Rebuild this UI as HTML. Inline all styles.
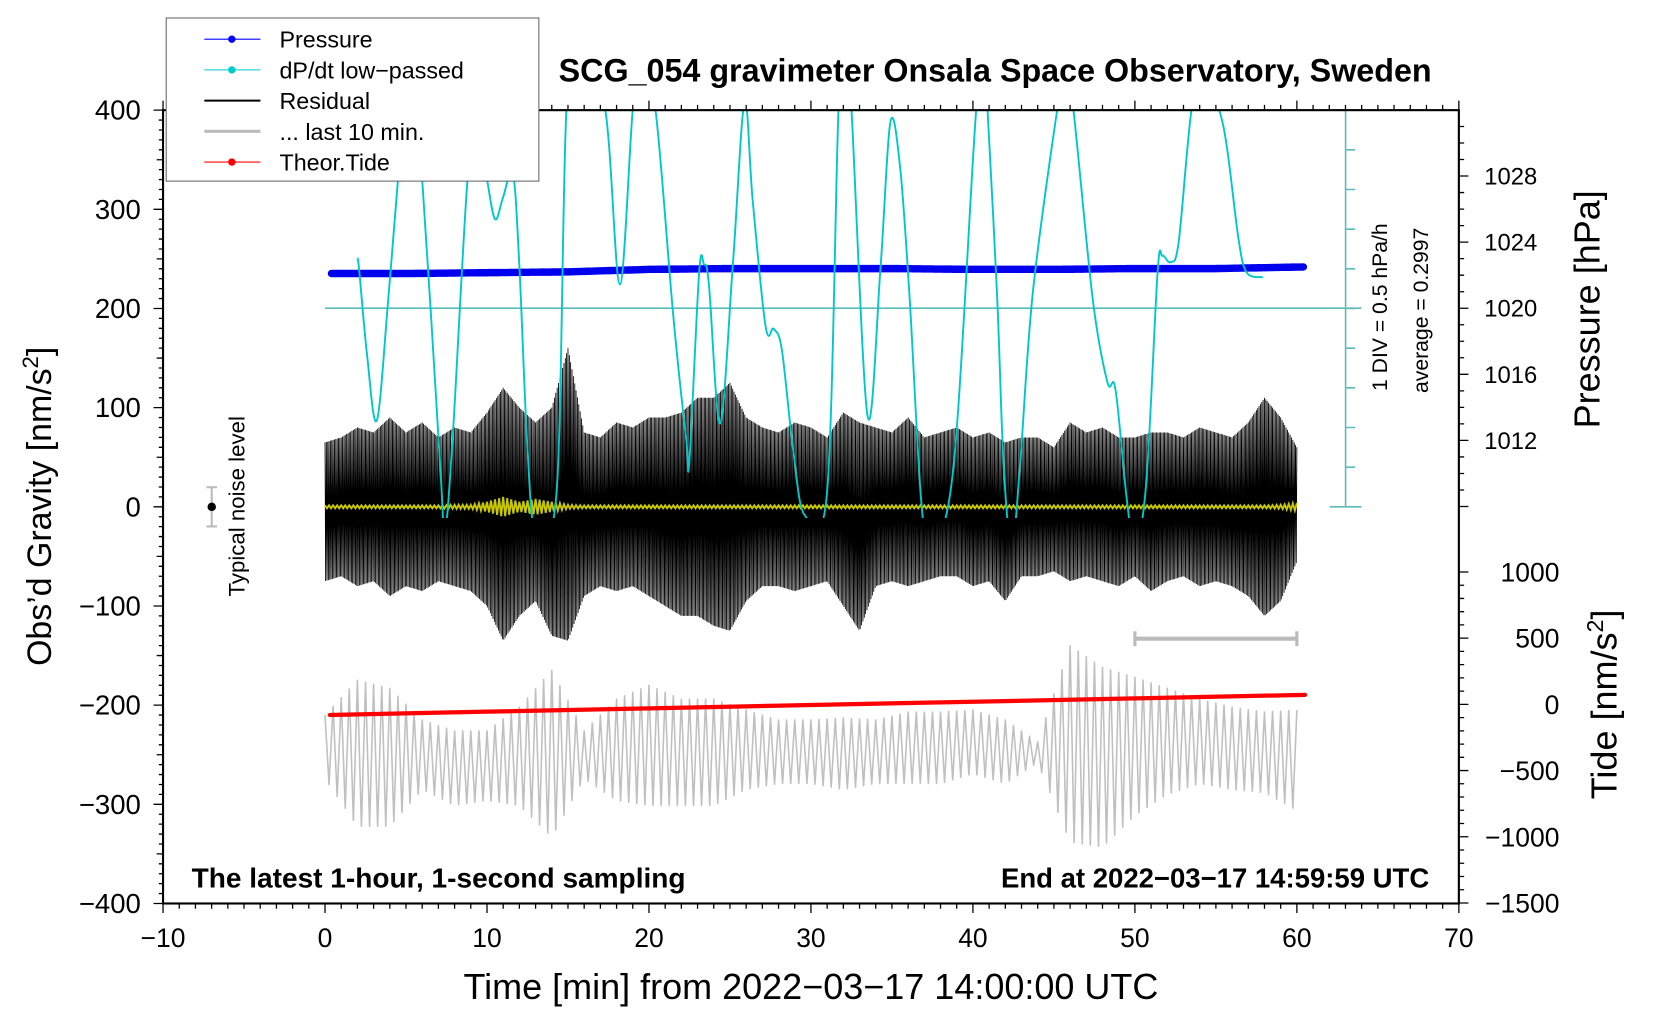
<!DOCTYPE html>
<html><head><meta charset="utf-8"><style>
html,body{margin:0;padding:0;background:#fff;}
svg{display:block;font-family:"Liberation Sans",sans-serif;}
</style></head><body>
<svg id="chart" xmlns="http://www.w3.org/2000/svg" width="1660" height="1020" viewBox="0 0 1568 963" preserveAspectRatio="none">
<defs>
<clipPath id="plotClip"><rect x="154" y="104" width="1224" height="749"/></clipPath>
<clipPath id="dpClip"><rect x="154" y="104" width="1224" height="385"/></clipPath>
</defs>
<rect width="1568" height="963" fill="#fff"/>
<g id="axes"></g>
<g id="series"></g>
<rect x="154" y="104" width="1224" height="749" fill="none" stroke="#000" stroke-width="2"/>
<text x="940" y="77" text-anchor="middle" font-size="30.5" font-weight="bold">SCG_054 gravimeter Onsala Space Observatory, Sweden</text>
<text x="181" y="838" font-size="26.5" font-weight="bold">The latest 1-hour, 1-second sampling</text>
<text x="1350" y="838" text-anchor="end" font-size="26" font-weight="bold">End at 2022−03−17 14:59:59 UTC</text>
<text x="766" y="943" text-anchor="middle" font-size="34">Time [min] from 2022−03−17 14:00:00 UTC</text>
<text transform="translate(48,478) rotate(-90)" text-anchor="middle" font-size="32">Obs’d Gravity [nm/s<tspan font-size="21" dy="-12">2</tspan><tspan dy="12">]</tspan></text>
<text transform="translate(1511,292) rotate(-90)" text-anchor="middle" font-size="34">Pressure [hPa]</text>
<text transform="translate(1527,665) rotate(-90)" text-anchor="middle" font-size="34">Tide [nm/s<tspan font-size="22" dy="-13">2</tspan><tspan dy="13">]</tspan></text>
<text transform="translate(1310,290) rotate(-90)" text-anchor="middle" font-size="20">1 DIV = 0.5 hPa/h</text>
<text transform="translate(1349,293) rotate(-90)" text-anchor="middle" font-size="20">average = 0.2997</text>
<g>
<line x1="200" y1="460" x2="200" y2="497" stroke="#bbb" stroke-width="2"/>
<line x1="195" y1="460" x2="205" y2="460" stroke="#bbb" stroke-width="2"/>
<line x1="195" y1="497" x2="205" y2="497" stroke="#bbb" stroke-width="2"/>
<circle cx="200" cy="478.5" r="4" fill="#000"/>
</g>
<text transform="translate(231,478) rotate(-90)" text-anchor="middle" font-size="21">Typical noise level</text>
<g stroke="#bbb" stroke-width="4">
<line x1="1072" y1="603" x2="1225" y2="603"/>
<line x1="1072" y1="596" x2="1072" y2="610" stroke-width="3"/>
<line x1="1225" y1="596" x2="1225" y2="610" stroke-width="3"/>
</g>
<g>
<rect x="157" y="17" width="352" height="154" fill="#fff" stroke="#666" stroke-width="1"/>
<g><line x1="193" y1="37" x2="246" y2="37" stroke="#00f" stroke-width="1"/><circle cx="219" cy="37" r="3.5" fill="#00f"/><text x="264" y="45" font-size="22">Pressure</text></g>
<g><line x1="193" y1="66" x2="246" y2="66" stroke="#0cc" stroke-width="1"/><circle cx="219" cy="66" r="3.5" fill="#0cc"/><text x="264" y="74" font-size="22">dP/dt low−passed</text></g>
<g><line x1="193" y1="95" x2="246" y2="95" stroke="#000" stroke-width="2"/><text x="264" y="103" font-size="22">Residual</text></g>
<g><line x1="193" y1="124" x2="246" y2="124" stroke="#bbb" stroke-width="3"/><text x="264" y="132" font-size="22">... last 10 min.</text></g>
<g><line x1="193" y1="153" x2="246" y2="153" stroke="#f00" stroke-width="1"/><circle cx="219" cy="153" r="3.5" fill="#f00"/><text x="264" y="161" font-size="22">Theor.Tide</text></g>
</g>
</svg>
<script>
// ---- data ----
const residualPos = [65,70,80,75,90,75,85,70,80,75,95,120,100,85,100,160,75,70,85,80,90,90,95,110,110,125,90,80,75,85,80,70,95,85,80,75,90,70,75,80,70,75,65,70,70,60,85,75,80,70,70,75,75,70,80,75,70,85,110,90,60];
const residualNeg = [-75,-70,-80,-75,-90,-80,-85,-75,-80,-85,-100,-135,-110,-95,-130,-135,-90,-80,-85,-80,-90,-100,-110,-110,-120,-125,-95,-80,-80,-85,-80,-75,-100,-125,-80,-75,-80,-75,-70,-70,-80,-75,-95,-70,-70,-65,-75,-70,-75,-80,-70,-85,-75,-70,-80,-75,-80,-90,-110,-95,-55];
const grayTop = [-210,-175,-183,-215,-226,-226,-202,-165,-226,-194,-180,-194,-194,-205,-215,-215,-213,-215,-207,-207,-205,-215,-237,-140,-162,-172,-183,-194,-202,-207,-205];
const grayBot = [-274,-322,-322,-285,-301,-296,-301,-333,-274,-296,-301,-301,-301,-285,-279,-279,-285,-279,-279,-279,-269,-279,-258,-338,-343,-311,-290,-279,-285,-288,-306];
const yellowAmp = [1.5,1.5,1.5,1.5,1.5,1.5,1.5,1.5,2,2,5,10,5,8,5,2,1.5,1.5,1.5,1.5,1.5,1.5,1.5,1.5,1.5,1.5,1.5,1.5,1.5,1.5,1.5,1.5,1.5,1.5,1.5,1.5,1.5,1.5,1.5,1.5,1.5,1.5,1.5,1.5,1.5,1.5,1.5,1.5,1.5,1.5,1.5,1.5,1.5,1.5,1.5,1.5,1.5,1.5,1.5,2,4];
const pressMin = [0,5,10,15,20,25,30,35,40,45,50,55,60.5];
const pressVal = [1022.1,1022.1,1022.15,1022.2,1022.35,1022.4,1022.4,1022.4,1022.35,1022.35,1022.4,1022.4,1022.5];
const tideMin = [0.3,10,20,30,40,50,60.5];
const tideVal = [-80,-55,-30,-5,20,45,72];
const dpMin = [2.0,2.1,2.6,3.2,3.9,4.5,5.2,6.0,7.1,7.4,7.9,8.8,9.4,10.0,10.5,11.0,11.6,12.0,12.5,13.0,14.3,14.9,15.7,17.3,18.2,19.0,19.5,20.4,21.5,22.3,22.5,23.1,23.4,23.7,24.4,25.2,25.9,26.4,27.2,27.7,28.2,28.9,29.6,31.0,31.7,32.1,32.5,33.5,34.3,34.9,35.5,36.1,36.8,37.4,38.8,40.2,40.7,40.9,41.5,41.9,42.4,42.9,43.7,45.2,45.7,46.2,47.4,48.3,48.8,49.5,50.0,50.7,51.4,51.7,52.2,52.7,53.5,54.3,55.2,55.7,56.4,56.9,57.9];
const dpVal = [0.62,0.5,-0.6,-1.41,0.11,1.62,3.3,1.62,-1.94,-2.8,-1.56,1.62,2.3,1.62,1.12,1.4,1.7,0.53,-1.78,-2.8,-2.3,2.5,3.5,2.5,0.3,2.5,3.0,2.5,-0.1,-1.65,-1.9,0.45,0.55,0.3,-1.45,0.62,2.6,1.37,-0.23,-0.26,-0.52,-1.78,-2.6,-2.3,2.5,3.5,2.5,-1.36,0.53,2.34,1.79,0.11,-2.4,-3.0,-2.0,2.5,3.0,2.5,0.11,-2.0,-3.0,-2.0,0.2,2.5,3.0,2.5,0.11,-0.93,-1.02,-2.4,-3.0,-2.2,0.45,0.66,0.58,0.83,2.5,3.0,2.5,2.0,0.87,0.45,0.39];
const xTicks = [-10,0,10,20,30,40,50,60,70];
const yTicks = [400,300,200,100,0,-100,-200,-300,-400];
const pTicks = [1028,1024,1020,1016,1012];
const tTicks = [1000,500,0,-500,-1000,-1500];

// ---- scales ----
const X = m => 154 + (m + 10) * 1224 / 80;
const Yg = g => 478.5 - g * 749 / 800;
const Yp = p => 291 - (p - 1020) * 15.6;
const Yd = v => 291 - v * 75;
const Yt = t => 665 - t * 0.125;
const NS = 'http://www.w3.org/2000/svg';
const axes = document.getElementById('axes');
const series = document.getElementById('series');
function mk(tag, attrs, parent) { const e = document.createElementNS(NS, tag); for (const k in attrs) e.setAttribute(k, attrs[k]); parent.appendChild(e); return e; }
function interp(arr, m, step) { const f = m / step; const i = Math.min(Math.floor(f), arr.length - 2); const t = f - i; return arr[i] * (1 - t) + arr[i + 1] * t; }
function interpXY(xa, ya, m) { for (let i = 0; i < xa.length - 1; i++) { if (m <= xa[i + 1]) { const t = (m - xa[i]) / (xa[i + 1] - xa[i]); return ya[i] * (1 - t) + ya[i + 1] * t; } } return ya[ya.length - 1]; }
function smoothPath(pts) {
  let d = `M${pts[0][0].toFixed(1)} ${pts[0][1].toFixed(1)}`;
  for (let i = 0; i < pts.length - 1; i++) {
    const p0 = pts[Math.max(i - 1, 0)], p1 = pts[i], p2 = pts[i + 1], p3 = pts[Math.min(i + 2, pts.length - 1)];
    const c1 = [p1[0] + (p2[0] - p0[0]) / 6, p1[1] + (p2[1] - p0[1]) / 6];
    const c2 = [p2[0] - (p3[0] - p1[0]) / 6, p2[1] - (p3[1] - p1[1]) / 6];
    d += `C${c1[0].toFixed(1)} ${c1[1].toFixed(1)} ${c2[0].toFixed(1)} ${c2[1].toFixed(1)} ${p2[0].toFixed(1)} ${p2[1].toFixed(1)}`;
  }
  return d;
}

// ---- ticks ----
let tk = '';
for (let m = -10; m <= 70; m++) { const x = X(m); const L = m % 10 === 0 ? 9 : 5; tk += `M${x} 853v${L}M${x} 104v${-L}`; }
for (let g = -400; g <= 400; g += 10) { const y = Yg(g); const L = g % 100 === 0 ? 9 : (g % 50 === 0 ? 6 : 4); tk += `M154 ${y}h${-L}`; }
for (let p = 1008; p <= 1031; p++) { const y = Yp(p); if (y < 104) continue; const L = p % 4 === 0 ? 9 : 5; tk += `M1378 ${y}h${L}`; }
for (let t = -1500; t <= 1000; t += 100) { const y = Yt(t); const L = t % 500 === 0 ? 9 : 5; tk += `M1378 ${y}h${L}`; }
const tp = mk('path', { d: tk, stroke: '#000', 'stroke-width': 1.2, fill: 'none' }, axes);


xTicks.forEach(v => { const t = mk('text', { x: X(v), y: 894, 'text-anchor': 'middle', 'font-size': 25 }, axes); t.textContent = v < 0 ? '−' + Math.abs(v) : v;
  
   });
yTicks.forEach(v => { const t = mk('text', { x: 133, y: Yg(v) + 9, 'text-anchor': 'end', 'font-size': 26 }, axes); t.textContent = v < 0 ? '−' + Math.abs(v) : v;
  
   });
pTicks.forEach(v => { const t = mk('text', { x: 1402, y: Yp(v) + 8, 'font-size': 22.5 }, axes); t.textContent = v;
  
   });
tTicks.forEach(v => { const t = mk('text', { x: 1473, y: Yt(v) + 9, 'text-anchor': 'end', 'font-size': 25 }, axes); t.textContent = v < 0 ? '−' + Math.abs(v) : v;
  
   });

// dP/dt axis
let dp = 'M1271 104V478.5M1256 104h30M1256 478.5h30M307 291H1286';
for (let i = 1; i < 10; i++) { const y = 104 + i * 37.45; dp += `M1271 ${y}h9`; }
const dpa = mk('path', { d: dp, stroke: '#5bbcb8', 'stroke-width': 1.5, fill: 'none' }, axes);



const clipG = mk('g', { 'clip-path': 'url(#plotClip)' }, series);

// gray last 10 min
let gp = '';
for (let i = 0; i <= 240; i++) { const m = i / 4; const v = i % 2 === 0 ? interp(grayTop, m, 2) : interp(grayBot, m, 2); gp += (i ? 'L' : 'M') + X(m).toFixed(1) + ' ' + Yg(v).toFixed(1); }
const gEl = mk('path', { d: gp, stroke: '#c0c0c0', 'stroke-width': 1.5, fill: 'none', 'stroke-linejoin': 'round' }, clipG);



// cyan dP/dt
const cPts = dpMin.map((m, i) => [X(m), Yd(dpVal[i])]);
const cEl = mk('path', { d: smoothPath(cPts), stroke: '#00c8c8', 'stroke-width': 1.8, fill: 'none', 'stroke-linejoin': 'round', 'clip-path': 'url(#dpClip)' }, series);



// residual
let rp = '';
for (let i = 0; i <= 60 * 24; i++) { const m = i / 24; const v = i % 2 === 0 ? interp(residualPos, m, 1) : interp(residualNeg, m, 1); rp += (i ? 'L' : 'M') + X(m).toFixed(1) + ' ' + Yg(v).toFixed(1); }
const rEl = mk('path', { d: rp, stroke: '#000', 'stroke-width': 0.8, fill: 'none' }, clipG);



// yellow
let yp = '';
for (let i = 0; i <= 60 * 8; i++) { const m = i / 8; const a = interp(yellowAmp, m, 1); const v = i % 2 === 0 ? a : -a; yp += (i ? 'L' : 'M') + X(m).toFixed(1) + ' ' + Yg(v).toFixed(1); }
const yEl = mk('path', { d: yp, stroke: '#c8c800', 'stroke-width': 1.8, fill: 'none' }, clipG);



// pressure
let pp = '';
for (let i = 0; i <= 600; i++) { const m = 0.4 + i * 0.1; pp += (i ? 'L' : 'M') + X(m).toFixed(1) + ' ' + Yp(interpXY(pressMin, pressVal, m)).toFixed(1); }
const pEl = mk('path', { d: pp, stroke: '#0000ee', 'stroke-width': 7, fill: 'none', 'stroke-linecap': 'round' }, clipG);



// tide
let td = '';
for (let i = 0; i < tideMin.length; i++) td += (i ? 'L' : 'M') + X(tideMin[i]).toFixed(1) + ' ' + Yt(tideVal[i]).toFixed(1);
const tEl = mk('path', { d: td, stroke: '#f00', 'stroke-width': 4, fill: 'none', 'stroke-linecap': 'round' }, clipG);


</script>
</body></html>
